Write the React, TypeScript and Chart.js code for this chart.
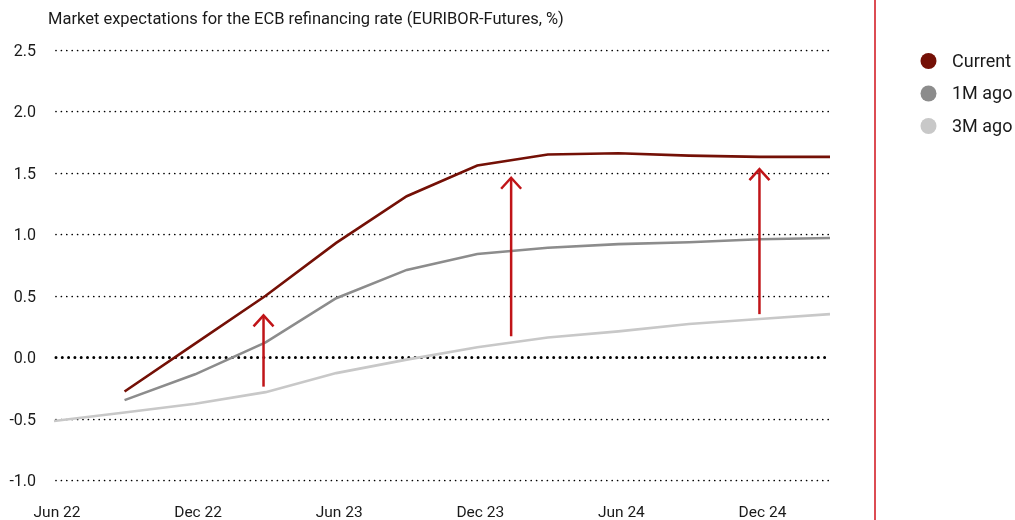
import React, { useEffect, useRef } from 'react';
import { Chart, registerables } from 'chart.js';

Chart.register(...registerables);

const chartTitle = 'Market expectations for the ECB refinancing rate (EURIBOR-Futures, %)';
const quarters = ['Jun 22', 'Sep 22', 'Dec 22', 'Mar 23', 'Jun 23', 'Sep 23', 'Dec 23', 'Mar 24', 'Jun 24', 'Sep 24', 'Dec 24', 'Mar 25'];
const seriesNames = ['Current', '1M ago', '3M ago'];
const seriesColors = ['#741006', '#8c8c8c', '#c8c8c8'];
const current = [null, -0.28, 0.11, 0.5, 0.93, 1.31, 1.56, 1.65, 1.66, 1.64, 1.63, 1.63];
const oneMonthAgo = [null, -0.35, -0.14, 0.12, 0.48, 0.71, 0.84, 0.89, 0.92, 0.935, 0.96, 0.97];
const threeMonthsAgo = [-0.52, -0.45, -0.38, -0.285, -0.13, -0.02, 0.08, 0.16, 0.21, 0.27, 0.31, 0.35];
const yMin = -1.0;
const yMax = 2.5;
const yStep = 0.5;
// arrows: position on quarter index, start value and end value
const arrowAt = [2.97, 6.48, 10.0];
const arrowFrom = [-0.24, 0.17, 0.35];
const arrowTo = [0.34, 1.46, 1.53];

const FONT = 'Roboto, "DejaVu Sans", sans-serif';
const TEXT = '#1a1a1a';
const ARROW = '#c01418';

const customPlugin = {
  id: 'customDecor',
  beforeDatasetsDraw(chart: any) {
    const { ctx, chartArea, scales } = chart;
    const y = scales.y;
    ctx.save();
    ctx.strokeStyle = '#000';
    ctx.lineCap = 'round';
    y.ticks.forEach((t: any) => {
      const py = Math.round(y.getPixelForValue(t.value)) + 0.5;
      const zero = Math.abs(t.value) < 1e-9;
      ctx.beginPath();
      ctx.lineWidth = zero ? 3 : 1.7;
      ctx.setLineDash(zero ? [0, 6.3] : [0, 5.4]);
      ctx.moveTo(chartArea.left + 2, py);
      ctx.lineTo(chartArea.right, py);
      ctx.stroke();
    });
    ctx.restore();
  },
  afterDatasetsDraw(chart: any) {
    const { ctx, scales } = chart;
    const x = scales.x;
    const y = scales.y;
    ctx.save();
    ctx.strokeStyle = ARROW;
    ctx.lineWidth = 2.5;
    ctx.lineCap = 'butt';
    ctx.lineJoin = 'miter';
    arrowAt.forEach((a, i) => {
      const px = x.getPixelForValue(a);
      const y0 = y.getPixelForValue(arrowFrom[i]);
      const y1 = y.getPixelForValue(arrowTo[i]);
      ctx.beginPath();
      ctx.moveTo(px, y0);
      ctx.lineTo(px, y1 + 1);
      ctx.stroke();
      ctx.beginPath();
      ctx.moveTo(px - 10, y1 + 11);
      ctx.lineTo(px, y1);
      ctx.lineTo(px + 10, y1 + 11);
      ctx.stroke();
    });
    ctx.restore();
  },
  afterDraw(chart: any) {
    const { ctx, chartArea, height } = chart;
    ctx.save();
    // title
    ctx.fillStyle = TEXT;
    ctx.font = `16.5px ${FONT}`;
    ctx.textAlign = 'left';
    ctx.textBaseline = 'middle';
    ctx.fillText(chartTitle, chartArea.left - 6, 20);
    // separator line
    ctx.strokeStyle = '#d0101a';
    ctx.lineWidth = 1.5;
    ctx.beginPath();
    ctx.moveTo(875, 0);
    ctx.lineTo(875, height);
    ctx.stroke();
    // legend
    ctx.font = `18px ${FONT}`;
    seriesNames.forEach((name, i) => {
      const cy = 61 + i * 32.5;
      ctx.fillStyle = seriesColors[i];
      ctx.beginPath();
      ctx.arc(928.5, cy, 8, 0, Math.PI * 2);
      ctx.fill();
      ctx.fillStyle = TEXT;
      ctx.fillText(name, 952, cy + 1);
    });
    ctx.restore();
  },
};

export default function App() {
  const canvasRef = useRef<HTMLCanvasElement | null>(null);

  useEffect(() => {
    document.body.style.margin = '0';
    const canvas = canvasRef.current;
    if (!canvas) return;
    const seriesData = [current, oneMonthAgo, threeMonthsAgo];
    const chart = new Chart(canvas, {
      type: 'line',
      data: {
        labels: quarters,
        datasets: seriesNames.map((name, i) => ({
          label: name,
          data: seriesData[i],
          borderColor: seriesColors[i],
          backgroundColor: seriesColors[i],
          borderWidth: 2.6,
          pointRadius: 0,
          tension: 0,
          fill: false,
        })),
      },
      options: {
        animation: false,
        responsive: true,
        maintainAspectRatio: false,
        layout: { padding: { top: 50, right: 185, left: 0, bottom: 0 } },
        plugins: {
          legend: { display: false },
          tooltip: { enabled: false },
          title: { display: false },
        },
        scales: {
          x: {
            type: 'category',
            offset: false,
            grid: { display: false, drawTicks: false },
            border: { display: false },
            ticks: {
              autoSkip: false,
              maxRotation: 0,
              padding: 24,
              labelOffset: 3,
              color: TEXT,
              font: { family: FONT, size: 15.5 },
              callback: (_v: any, i: number) => (i % 2 === 0 ? quarters[i] : ''),
            },
            afterFit: (s: any) => {
              s.height = 40;
            },
          },
          y: {
            min: yMin,
            max: yMax,
            grid: { display: false, drawTicks: false },
            border: { display: false },
            ticks: {
              stepSize: yStep,
              padding: 18,
              labelOffset: 2,
              color: TEXT,
              font: { family: FONT, size: 16 },
              callback: (v: any) => Number(v).toFixed(1),
            },
            afterFit: (s: any) => {
              s.width = 54;
            },
          },
        },
      },
      plugins: [customPlugin],
    });
    return () => chart.destroy();
  }, []);

  return (
    <div style={{ position: 'relative', width: 1015, height: 520 }}>
      <canvas ref={canvasRef} />
    </div>
  );
}
